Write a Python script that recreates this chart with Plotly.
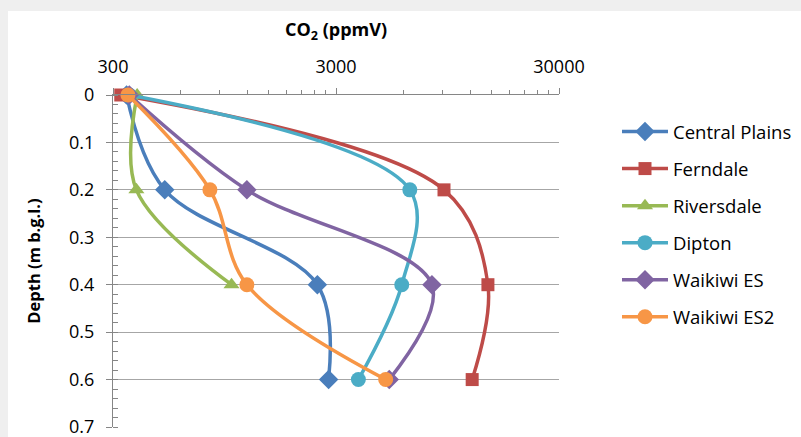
import math
import plotly.graph_objects as go

# Soil-gas CO2 concentration profiles (ppmV) against depth (m below ground level)
depth = [0, 0.2, 0.4, 0.6]

central_plains = [345, 512, 2475, 2780]
ferndale = [325, 9150, 14400, 12240]
riversdale = [385, 382, 1020, None]
dipton = [355, 6430, 5915, 3780]
waikiwi_es = [355, 1195, 8080, 5200]
waikiwi_es2 = [350, 816, 1195, 5010]

series = [
    ("Central Plains", central_plains, "#4A7EBB", "diamond", 15),
    ("Ferndale", ferndale, "#BE4B48", "square", 13),
    ("Riversdale", riversdale, "#98B954", "triangle-up", 14),
    ("Dipton", dipton, "#4BACC6", "circle", 15),
    ("Waikiwi ES", waikiwi_es, "#8064A2", "diamond", 15),
    ("Waikiwi ES2", waikiwi_es2, "#F79646", "circle", 15),
]

x_major = [300, 3000, 30000]
x_minor = [300 * k for k in range(2, 10)] + [3000 * k for k in range(2, 10)]
y_major = [0, 0.1, 0.2, 0.3, 0.4, 0.5, 0.6, 0.7]
y_labels = ["0", "0.1", "0.2", "0.3", "0.4", "0.5", "0.6", "0.7"]
y_minor = [round(i * 0.02, 2) for i in range(36)]

FONT = "'Open Sans', sans-serif"

fig = go.Figure()
for i, (name, vals, color, symbol, size) in enumerate(series):
    pts = [(v, d) for v, d in zip(vals, depth) if v is not None]
    fig.add_trace(go.Scatter(
        x=[p[0] for p in pts], y=[p[1] for p in pts],
        name=name, mode="lines+markers",
        line=dict(color=color, width=3.5, shape="spline", smoothing=1.0),
        marker=dict(symbol=symbol, size=size, color=color),
        legendgroup=f"g{i}", cliponaxis=False,
    ))

W, H = 801, 437
L, R, T, B = 113, 559, 95, 427

fig.update_layout(
    width=W, height=H,
    margin=dict(l=L, r=W - R, t=T, b=H - B, autoexpand=False),
    paper_bgcolor="#efefef", plot_bgcolor="rgba(0,0,0,0)",
    font=dict(family=FONT, size=18, color="#000"),
    showlegend=True,
    legend=dict(
        x=(617 - L) / (R - L), y=(B - 113) / (B - T), xanchor="left", yanchor="top",
        font=dict(size=18.5, family=FONT), itemwidth=46,
        traceorder="grouped", tracegroupgap=10, bgcolor="rgba(0,0,0,0)",
    ),
    xaxis=dict(
        type="log", side="top", range=[math.log10(300), math.log10(30000)],
        tickvals=x_major, ticktext=[str(v) for v in x_major],
        ticks="outside", ticklen=6, tickcolor="#868686", ticklabelstandoff=8,
        showline=True, linecolor="#868686", linewidth=1, showgrid=False, zeroline=False,
        minor=dict(tickvals=x_minor, ticks="outside", ticklen=4, tickcolor="#868686"),
        title=dict(text="<b>CO<sub>2</sub> (ppmV)</b>", font=dict(size=18), standoff=12),
        tickfont=dict(size=18), automargin=False,
    ),
    yaxis=dict(
        range=[0.7, 0], tickvals=y_major, ticktext=y_labels,
        ticks="outside", ticklen=6, tickcolor="#868686", ticklabelstandoff=8,
        ticklabeloverflow="allow",
        showline=True, linecolor="#868686", linewidth=1,
        showgrid=True, gridcolor="#a6a6a6", gridwidth=1, zeroline=False,
        minor=dict(tickvals=y_minor, ticks="inside", ticklen=5, tickcolor="#868686"),
        title=dict(text="<b>Depth (m b.g.l.)</b>", font=dict(size=16.5), standoff=24),
        tickfont=dict(size=18), automargin=False,
    ),
)

# White chart area with a thin grey frame around it
fig.add_shape(
    type="rect", xref="paper", yref="paper", layer="below",
    x0=(8 - L) / (R - L), x1=(W + 5 - L) / (R - L),
    y0=(B - (H + 5)) / (B - T), y1=(B - 11) / (B - T),
    fillcolor="white", line=dict(width=0),
)

fig.write_html("out.html")
